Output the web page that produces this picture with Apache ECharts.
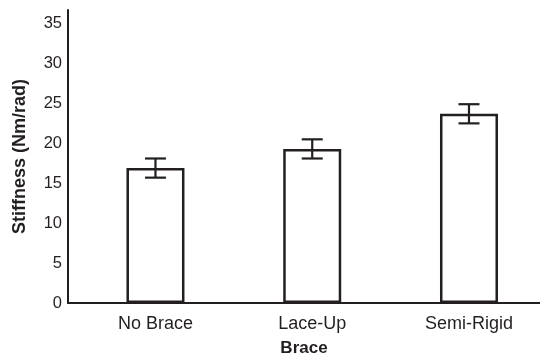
<!DOCTYPE html>
<html>
<head>
<meta charset="utf-8">
<script src="https://cdn.jsdelivr.net/npm/echarts@6/dist/echarts.min.js"></script>
<style>
html,body{margin:0;padding:0;background:#fff;}
#chart{width:540px;height:354px;}
</style>
</head>
<body>
<div id="chart"></div>
<script>
const categories = ['No Brace', 'Lace-Up', 'Semi-Rigid'];
const stiffness = [16.9, 19.3, 23.7];
const errors = [1.2, 1.2, 1.2];
const yTicks = [0, 5, 10, 15, 20, 25, 30, 35];

const ink = '#231f20';
const font = 'Liberation Sans, Arial, Helvetica, sans-serif';

const barData = categories.map((c, i) => [i + 1, stiffness[i]]);
const errData = categories.map((c, i) => [i + 1, stiffness[i] - errors[i], stiffness[i] + errors[i]]);

const chart = echarts.init(document.getElementById('chart'), null, {renderer: 'canvas'});
chart.setOption({
  animation: false,
  backgroundColor: '#ffffff',
  grid: {left: 68, right: 0, top: 10, bottom: 51, containLabel: false, outerBoundsMode: 'none'},
  xAxis: {
    type: 'value',
    min: 0.442,
    max: 3.453,
    name: 'Brace',
    nameLocation: 'middle',
    nameGap: 37,
    nameTextStyle: {fontFamily: font, fontSize: 17, fontWeight: 'bold', color: ink},
    axisLine: {show: true, lineStyle: {color: ink, width: 2}},
    axisTick: {show: false},
    splitLine: {show: false},
    axisLabel: {
      fontFamily: font, fontSize: 18, color: ink, margin: 12,
      showMinLabel: true, showMaxLabel: true,
      formatter: function (v) {
        const i = Math.round(v);
        if (Math.abs(v - i) < 1e-6 && i >= 1 && i <= categories.length) return categories[i - 1];
        return '';
      }
    }
  },
  yAxis: {
    type: 'value',
    min: 0,
    max: 36.7,
    interval: 5,
    name: 'Stiffness (Nm/rad)',
    nameLocation: 'middle',
    nameGap: 39,
    nameTextStyle: {fontFamily: font, fontSize: 18, fontWeight: 'bold', color: ink},
    axisLine: {show: true, lineStyle: {color: ink, width: 2}},
    axisTick: {show: false},
    splitLine: {show: false},
    axisLabel: {
      fontFamily: font, fontSize: 16.5, color: ink, margin: 6,
      formatter: function (v) {
        return yTicks.indexOf(Math.round(v * 1000) / 1000) >= 0 ? String(v) : '';
      }
    }
  },
  series: [
    {
      type: 'bar',
      data: barData,
      barWidth: 58,
      itemStyle: {color: '#ffffff', borderColor: ink, borderWidth: 2.5},
      z: 2
    },
    {
      type: 'custom',
      data: errData,
      z: 3,
      renderItem: function (params, api) {
        const x = api.value(0);
        const lo = api.coord([x, api.value(1)]);
        const hi = api.coord([x, api.value(2)]);
        const half = 10.5;
        const style = {stroke: ink, lineWidth: 2.2};
        return {
          type: 'group',
          children: [
            {type: 'line', shape: {x1: lo[0], y1: lo[1], x2: hi[0], y2: hi[1]}, style: style},
            {type: 'line', shape: {x1: lo[0] - half, y1: lo[1], x2: lo[0] + half, y2: lo[1]}, style: style},
            {type: 'line', shape: {x1: hi[0] - half, y1: hi[1], x2: hi[0] + half, y2: hi[1]}, style: style}
          ]
        };
      }
    }
  ]
});
</script>
</body>
</html>
